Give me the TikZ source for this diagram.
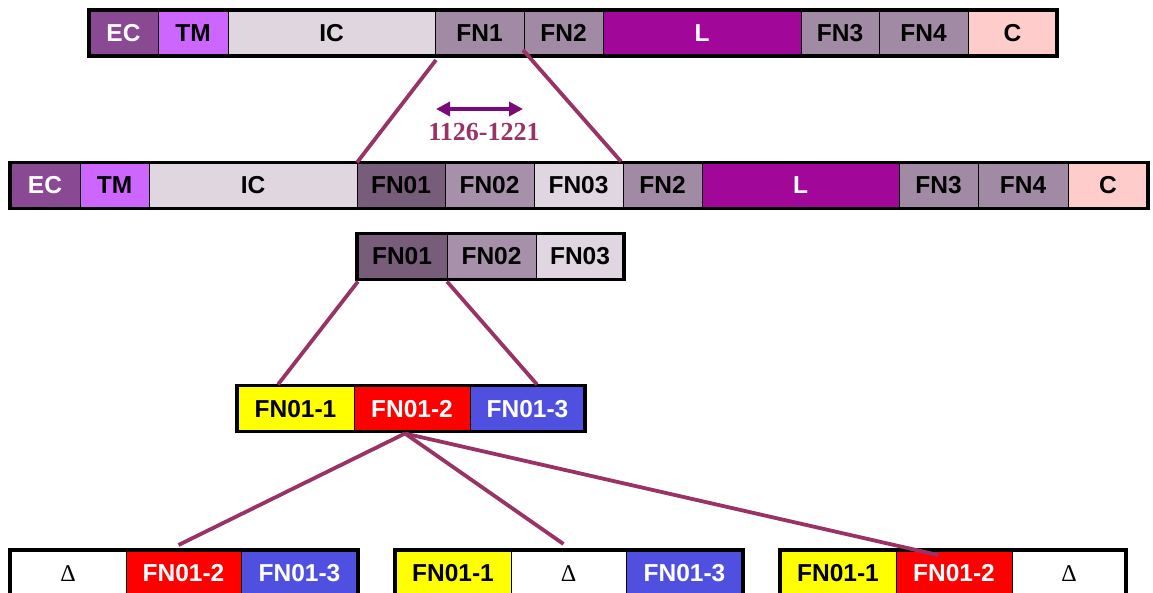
\documentclass[tikz,border=0pt]{standalone}
\usepackage{fontspec}
\setmainfont{Liberation Sans}
\newfontfamily\serifface{Liberation Serif}
\usetikzlibrary{arrows.meta,fit,calc}
\definecolor{cEC}{HTML}{8A4A93}
\definecolor{cTM}{HTML}{CC66FF}
\definecolor{cIC}{HTML}{DFD6E0}
\definecolor{cFN}{HTML}{A08AA4}
\definecolor{cL}{HTML}{A1089A}
\definecolor{cC}{HTML}{FFCCCC}
\definecolor{cFNa}{HTML}{775D7A}
\definecolor{cFNb}{HTML}{A790A9}
\definecolor{cFNc}{HTML}{E0D6E1}
\definecolor{cY}{HTML}{FFFF00}
\definecolor{cR}{HTML}{FF0000}
\definecolor{cB}{HTML}{5050E0}
\definecolor{cLine}{HTML}{993366}
\definecolor{cArrow}{HTML}{7A0A78}
\tikzset{
  cell/.style={draw=black, line width=1pt, inner sep=0pt, outer sep=0pt, minimum height=46pt, anchor=west,
    text height=17pt, text depth=0pt,
    font=\fontsize{24.5}{24.5}\selectfont\bfseries},
  dcell/.style={cell, fill=white, font=\fontsize{24}{24}\selectfont\serifface},
  frame/.style={draw=black, line width=3.5pt, inner sep=0pt, outer sep=0pt},
  conn/.style={draw=cLine, line width=3.8pt},
}
\begin{document}
\begin{tikzpicture}[x=1pt,y=-1pt]
\useasboundingbox (0,0) rectangle (1153,593);
% top bar
\node[cell, fill=cEC, text=white, minimum width=69pt] (tEC) at (89,33) {EC};
\node[cell, fill=cTM, minimum width=70pt] (tTM) at (158,33) {TM};
\node[cell, fill=cIC, minimum width=207pt] (tIC) at (228,33) {IC};
\node[cell, fill=cFN, minimum width=89pt] (tFN1) at (435,33) {FN1};
\node[cell, fill=cFN, minimum width=79pt] (tFN2) at (524,33) {FN2};
\node[cell, fill=cL, text=white, minimum width=198pt] (tL) at (603,33) {L};
\node[cell, fill=cFN, minimum width=78pt] (tFN3) at (801,33) {FN3};
\node[cell, fill=cFN, minimum width=89pt] (tFN4) at (879,33) {FN4};
\node[cell, fill=cC, minimum width=89pt] (tC) at (968,33) {C};
\node[frame, fit=(tEC)(tC)] (tbar) {};
% second bar
\node[cell, fill=cEC, text=white, minimum width=70pt] (sEC) at (10,185.5) {EC};
\node[cell, fill=cTM, minimum width=69pt] (sTM) at (80,185.5) {TM};
\node[cell, fill=cIC, minimum width=208pt] (sIC) at (149,185.5) {IC};
\node[cell, fill=cFNa, minimum width=88pt] (sFN01) at (357,185.5) {FN01};
\node[cell, fill=cFNb, minimum width=89pt] (sFN02) at (445,185.5) {FN02};
\node[cell, fill=cFNc, minimum width=89pt] (sFN03) at (534,185.5) {FN03};
\node[cell, fill=cFN, minimum width=79pt] (sFN2) at (623,185.5) {FN2};
\node[cell, fill=cL, text=white, minimum width=197pt] (sL) at (702,185.5) {L};
\node[cell, fill=cFN, minimum width=79pt] (sFN3) at (899,185.5) {FN3};
\node[cell, fill=cFN, minimum width=90pt] (sFN4) at (978,185.5) {FN4};
\node[cell, fill=cC, minimum width=80pt] (sC) at (1068,185.5) {C};
\node[frame, fit=(sEC)(sC)] (sbar) {};
% third bar
\node[cell, fill=cFNa, minimum width=90pt] (uFN01) at (357,256.5) {FN01};
\node[cell, fill=cFNb, minimum width=89pt] (uFN02) at (447,256.5) {FN02};
\node[cell, fill=cFNc, minimum width=88pt] (uFN03) at (536,256.5) {FN03};
\node[frame, fit=(uFN01)(uFN03)] (ubar) {};
% fourth bar
\node[cell, fill=cY, minimum width=117pt] (vA) at (237,408.5) {FN01-1};
\node[cell, fill=cR, text=white, minimum width=116pt] (vB) at (354,408.5) {FN01-2};
\node[cell, fill=cB, text=white, minimum width=115pt] (vC) at (470,408.5) {FN01-3};
\node[frame, fit=(vA)(vC)] (vbar) {};
% bottom bars
\node[dcell, minimum width=116pt] (aA) at (10,573) {Δ};
\node[cell, fill=cR, text=white, minimum width=115pt] (aB) at (126,573) {FN01-2};
\node[cell, fill=cB, text=white, minimum width=117pt] (aC) at (241,573) {FN01-3};
\node[frame, fit=(aA)(aC)] (abar) {};
\node[cell, fill=cY, minimum width=116pt] (bA) at (395,573) {FN01-1};
\node[dcell, minimum width=115pt] (bB) at (511,573) {Δ};
\node[cell, fill=cB, text=white, minimum width=117pt] (bC) at (626,573) {FN01-3};
\node[frame, fit=(bA)(bC)] (bbar) {};
\node[cell, fill=cY, minimum width=116pt] (cA) at (780,573) {FN01-1};
\node[cell, fill=cR, text=white, minimum width=116pt] (cB) at (896,573) {FN01-2};
\node[dcell, minimum width=114pt] (cC) at (1012,573) {Δ};
\node[frame, fit=(cA)(cC)] (cbar) {};
% connectors
\draw[conn] ($(tFN1.south west)+(1,4)$) -- (sFN01.north west);
\draw[conn] ($(tFN2.south west)+(-1,-6)$) -- ($(sFN03.north east)+(-2,-1)$);
\draw[conn] ($(uFN01.south west)+(1,2)$) -- ($(vA.north west)+(41,-1)$);
\draw[conn] ($(uFN01.south east)+(0,2)$) -- ($(vC.north west)+(67,-1)$);
\coordinate (hub) at ($(vB.south)+(-7,2)$);
\draw[conn] (hub) -- ($(aB.north)+(-5,-5)$);
\draw[conn] (hub) -- ($(bB.north)+(-5,-6)$);
\draw[conn] (hub) -- ($(cB.north)+(-16,5)$);
% arrow and label
\coordinate (arL) at (436,109);
\coordinate (arR) at (523,109);
\draw[cArrow, line width=3.5pt, {Triangle[length=14pt,width=14pt]}-{Triangle[length=14pt,width=14pt]}] (arL) -- (arR);
\node[text=cLine, font=\fontsize{26}{26}\selectfont\serifface\bfseries, inner sep=0pt] (range) at (484,132) {1126-1221};
\end{tikzpicture}
\end{document}
